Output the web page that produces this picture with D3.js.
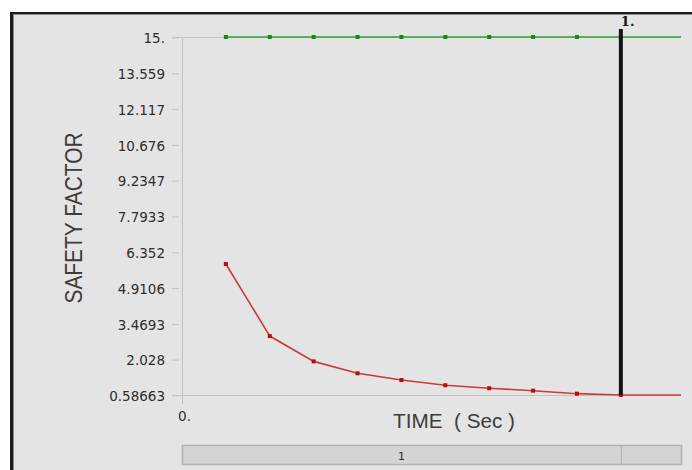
<!DOCTYPE html>
<html>
<head>
<meta charset="utf-8">
<script src="https://cdn.jsdelivr.net/npm/d3@7"></script>
<style>
    html, body { margin: 0; padding: 0; background: #fff; }
    svg { display: block; }
</style>
</head>
<body>
<svg id="safety-vis" width="692" height="470"></svg>
<script>
// data
const TIME = [0.1, 0.2, 0.3, 0.4, 0.5, 0.6, 0.7, 0.8, 0.9, 1.0];
const SAFETY_MAX = [15, 15, 15, 15, 15, 15, 15, 15, 15, 15];
const SAFETY_MIN = [5.86, 2.96, 1.94, 1.46, 1.19, 0.98, 0.86, 0.76, 0.64, 0.58663];
const Y_TICKS = [0.58663, 2.028, 3.4693, 4.9106, 6.352, 7.7933, 9.2347, 10.676, 12.117, 13.559, 15];
const Y_TICK_LABELS = ['0.58663', '2.028', '3.4693', '4.9106', '6.352', '7.7933', '9.2347', '10.676', '12.117', '13.559', '15.'];
const X_TICKS = [0];
const X_TICK_LABELS = ['0.'];
const CURSOR_TIME = 1.0;
const CURSOR_LABEL = '1.';
const X_END = 1.137;
const STEP_LABEL = '1';

function safetyVis() {
    const root = d3.select('#safety-vis');

    const WIDTH = 692;
    const HEIGHT = 470;

    const FRAME_LEFT = 10;
    const FRAME_TOP = 12;

    const PLOT_LEFT = 182;
    const PLOT_RIGHT = 681;
    const PLOT_TOP = 37;
    const PLOT_BOTTOM = 395;

    const TICK_FONT = 'DejaVu Sans, Verdana, sans-serif';

    const COLORS = {
        bg: '#e4e4e4',
        axis: '#c2c2c2',
        text: '#2e2e2e',
        label: '#3c3c3c',
        green: '#2ea22e',
        greenMark: '#128c12',
        red: '#cc3a3a',
        redMark: '#b80c0c',
        bar: '#d5d3d5',
        barStroke: '#b2b0b2'
    };

    const x = d3.scaleLinear().domain([0, X_END]).range([PLOT_LEFT, PLOT_RIGHT]);
    const y = d3.scaleLinear().domain([Y_TICKS[0], Y_TICKS[Y_TICKS.length - 1]]).range([PLOT_BOTTOM, PLOT_TOP]);

    drawFrame();
    drawAxis();
    drawSeries(SAFETY_MAX, COLORS.green, COLORS.greenMark);
    drawSeries(SAFETY_MIN, COLORS.red, COLORS.redMark);
    drawCursor();
    drawStepBar();

    function drawFrame() {
        root.append('rect')
            .attr('x', FRAME_LEFT)
            .attr('y', FRAME_TOP)
            .attr('width', WIDTH - FRAME_LEFT)
            .attr('height', HEIGHT - FRAME_TOP)
            .attr('fill', COLORS.bg);
        // dark window edges
        root.append('rect')
            .attr('x', FRAME_LEFT)
            .attr('y', FRAME_TOP)
            .attr('width', WIDTH - FRAME_LEFT)
            .attr('height', 2)
            .attr('fill', '#1c1c1c');
        root.append('rect')
            .attr('x', FRAME_LEFT)
            .attr('y', FRAME_TOP)
            .attr('width', 3)
            .attr('height', HEIGHT - FRAME_TOP)
            .attr('fill', '#1c1c1c');
        root.append('line')
            .attr('x1', FRAME_LEFT + 3).attr('x2', WIDTH)
            .attr('y1', FRAME_TOP + 2.5).attr('y2', FRAME_TOP + 2.5)
            .attr('stroke', '#8a8a8a');
        root.append('line')
            .attr('x1', FRAME_LEFT + 3.5).attr('x2', FRAME_LEFT + 3.5)
            .attr('y1', FRAME_TOP + 2).attr('y2', HEIGHT)
            .attr('stroke', '#8a8a8a');
    }

    function drawAxis() {
        // top and bottom plot lines
        [PLOT_TOP, PLOT_BOTTOM].forEach(py => {
            root.append('line')
                .attr('x1', 172).attr('x2', PLOT_RIGHT)
                .attr('y1', py + 0.5).attr('y2', py + 0.5)
                .attr('stroke', COLORS.axis);
        });

        const yAxis = d3.axisLeft(y)
            .tickValues(Y_TICKS)
            .tickFormat((d, i) => Y_TICK_LABELS[i])
            .tickSize(7)
            .tickPadding(7);

        const gy = root.append('g')
            .attr('transform', `translate(${PLOT_LEFT - 3},0.5)`)
            .call(yAxis);
        gy.select('.domain').remove();
        gy.selectAll('line').attr('stroke', COLORS.axis);
        gy.selectAll('text')
            .attr('fill', COLORS.text)
            .attr('font-family', TICK_FONT)
            .attr('font-size', 13.5)
            .attr('dy', '0.38em');

        root.append('line')
            .attr('x1', PLOT_LEFT + 0.5).attr('x2', PLOT_LEFT + 0.5)
            .attr('y1', PLOT_TOP).attr('y2', PLOT_BOTTOM + 9)
            .attr('stroke', COLORS.axis);

        const xAxis = d3.axisBottom(x)
            .tickValues(X_TICKS)
            .tickFormat((d, i) => X_TICK_LABELS[i])
            .tickSize(0)
            .tickPadding(16);
        const gx = root.append('g')
            .attr('transform', `translate(2,${PLOT_BOTTOM})`)
            .call(xAxis);
        gx.select('.domain').remove();
        gx.selectAll('text')
            .attr('fill', COLORS.text)
            .attr('font-family', TICK_FONT)
            .attr('font-size', 13.5);

        root.append('text')
            .text('SAFETY FACTOR')
            .attr('transform', 'translate(82,218) rotate(-90)')
            .attr('text-anchor', 'middle')
            .attr('font-family', 'Liberation Sans, Arial, sans-serif')
            .attr('font-size', 24)
            .attr('textLength', 171)
            .attr('lengthAdjust', 'spacingAndGlyphs')
            .attr('fill', COLORS.label);

        root.append('text')
            .text('TIME  ( Sec )')
            .attr('x', 393)
            .attr('y', 428)
            .attr('xml:space', 'preserve')
            .style('white-space', 'pre')
            .attr('font-family', 'Liberation Sans, Arial, sans-serif')
            .attr('font-size', 21)
            .attr('textLength', 122)
            .attr('lengthAdjust', 'spacingAndGlyphs')
            .attr('fill', COLORS.label);
    }

    function drawSeries(values, lineColor, markColor) {
        const pts = TIME.map((t, i) => [t, values[i]]);
        // the curve holds its last value to the end of the time range
        const linePts = pts.concat([[X_END, values[values.length - 1]]]);
        root.append('path')
            .datum(linePts)
            .attr('d', d3.line().x(d => x(d[0])).y(d => y(d[1])))
            .attr('fill', 'none')
            .attr('stroke', lineColor)
            .attr('stroke-width', 1.6);
        root.selectAll(null)
            .data(pts)
            .enter()
            .append('rect')
            .attr('x', d => x(d[0]) - 2)
            .attr('y', d => y(d[1]) - 2)
            .attr('width', 4)
            .attr('height', 4)
            .attr('fill', markColor);
    }

    function drawCursor() {
        root.append('line')
            .attr('x1', x(CURSOR_TIME)).attr('x2', x(CURSOR_TIME))
            .attr('y1', PLOT_TOP - 8).attr('y2', PLOT_BOTTOM)
            .attr('stroke', '#141414')
            .attr('stroke-width', 4);
        root.append('text')
            .text(CURSOR_LABEL)
            .attr('x', x(CURSOR_TIME))
            .attr('y', 26)
            .attr('font-family', 'DejaVu Serif, serif')
            .attr('font-weight', 'bold')
            .attr('font-size', 13)
            .attr('fill', '#141414');
    }

    function drawStepBar() {
        const top = 445;
        const h = 19;
        root.append('rect')
            .attr('x', PLOT_LEFT + 0.5)
            .attr('y', top + 0.5)
            .attr('width', PLOT_RIGHT - PLOT_LEFT)
            .attr('height', h)
            .attr('fill', COLORS.bar)
            .attr('stroke', COLORS.barStroke)
            .attr('stroke-width', 1.5);
        root.append('line')
            .attr('x1', x(CURSOR_TIME) + 0.5).attr('x2', x(CURSOR_TIME) + 0.5)
            .attr('y1', top).attr('y2', top + h)
            .attr('stroke', COLORS.barStroke);
        root.append('text')
            .text(STEP_LABEL)
            .attr('x', (PLOT_LEFT + x(CURSOR_TIME)) / 2)
            .attr('y', top + 15)
            .attr('text-anchor', 'middle')
            .attr('font-family', TICK_FONT)
            .attr('font-size', 11)
            .attr('fill', COLORS.text);
    }
}

safetyVis();
</script>
</body>
</html>
